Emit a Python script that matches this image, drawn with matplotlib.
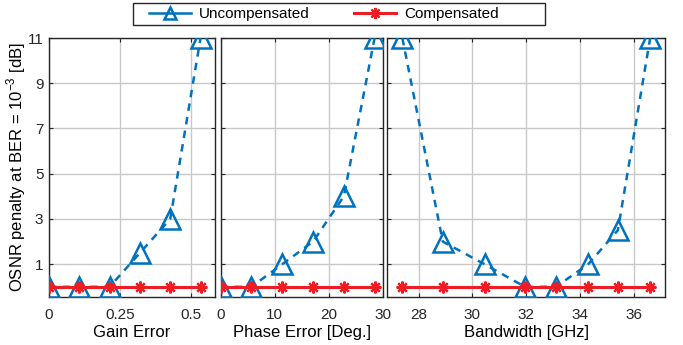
import numpy as np
import matplotlib.pyplot as plt
from matplotlib.patches import Rectangle

plt.rcParams['font.family'] = ['Liberation Sans', 'DejaVu Sans']
plt.rcParams['mathtext.fontset'] = 'custom'
plt.rcParams['mathtext.rm'] = 'Liberation Sans'

BLUE = '#0072BD'
RED = '#EE1D23'

# gain error sweep
gain_x = [0, 0.107, 0.214, 0.321, 0.428, 0.535]
gain_unc = [0, 0, 0, 1.5, 3, 11]
gain_comp = [0, 0, 0, 0, 0, 0]

# phase error sweep [deg]
phase_x = [0, 5.7, 11.4, 17.1, 22.8, 28.5]
phase_unc = [0, 0, 1, 2, 4, 11]
phase_comp = [0, 0, 0, 0, 0, 0]

# bandwidth sweep [GHz]
bw_x = [27.4, 28.9, 30.45, 31.95, 33.1, 34.3, 35.4, 36.6]
bw_unc = [11, 2, 1, 0, 0, 1, 2.5, 11]
bw_comp = [0, 0, 0, 0, 0, 0, 0, 0]

panels = [
    (gain_x, gain_unc, gain_comp, 'Gain Error', (0, 0.586), [0, 0.25, 0.5], ['0', '0.25', '0.5']),
    (phase_x, phase_unc, phase_comp, 'Phase Error [Deg.]', (0, 30), [0, 10, 20, 30], ['0', '10', '20', '30']),
    (bw_x, bw_unc, bw_comp, 'Bandwidth [GHz]', (26.83, 37.15), [28, 30, 32, 34, 36], ['28', '30', '32', '34', '36']),
]

W, H = 683, 345
boxes = [(49, 215), (220.7, 382.7), (387, 665)]
top, bot = 38, 297

fig = plt.figure(figsize=(W / 100, H / 100), dpi=100)

axes = []
for i, (x, unc, comp, xlabel, xlim, xt, xtl) in enumerate(panels):
    l, r = boxes[i]
    ax = fig.add_axes([l / W, 1 - bot / H, (r - l) / W, (bot - top) / H])
    ax.plot(x, unc, '--', color=BLUE, lw=1.8, marker='^', ms=15, mfc='none',
            mec=BLUE, mew=1.8, dashes=(3, 2.5), label='Uncompensated', zorder=3)
    ax.plot(x, comp, '-', color=RED, lw=2.2, marker=(8, 2, 0), ms=8.5,
            mec=RED, mew=1.6, label='Compensated', zorder=4)
    ax.set_xlim(*xlim)
    ax.set_ylim(-0.45, 11)
    ax.set_xticks(xt)
    ax.set_xticklabels(xtl)
    ax.set_yticks([1, 3, 5, 7, 9, 11])
    if i == 0:
        ax.set_ylabel('OSNR penalty at BER = 10$^{-3}$ [dB]', fontsize=12, labelpad=0)
    else:
        ax.set_yticklabels([])
    ax.set_xlabel(xlabel, fontsize=12, labelpad=2)
    ax.grid(True, color='#c8c8c8', lw=1)
    ax.set_axisbelow(True)
    ax.tick_params(direction='in', length=3, width=0.8, labelsize=11,
                   top=True, right=True, pad=8, colors='#262626')
    ax.tick_params(axis='y', pad=4)
    for s in ax.spines.values():
        s.set_color('#262626')
        s.set_linewidth(1.0)
    axes.append(ax)

h, lab = axes[0].get_legend_handles_labels()
leg = fig.legend(h, lab, loc='center left', bbox_to_anchor=(149 / W, 1 - 14 / H),
                 ncol=2, fontsize=11, frameon=False,
                 handlelength=2.75, handletextpad=0.5, columnspacing=2.95,
                 borderpad=0, borderaxespad=0)
for lh in leg.legend_handles:
    lh.set_markersize(8)
    lh.set_linestyle('-')

# legend frame
fig.patches.append(Rectangle((133 / W, 1 - 25 / H), 412 / W, 22 / H,
                             transform=fig.transFigure, fill=False,
                             edgecolor='#262626', lw=1.0))

fig.savefig('out.png', dpi=100)
